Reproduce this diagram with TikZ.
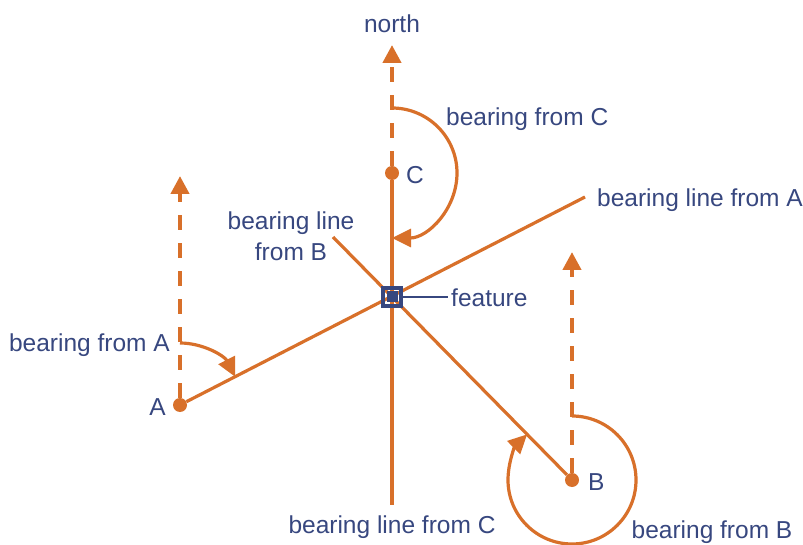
\documentclass[tikz,border=0pt]{standalone}
\usepackage{fontspec}
\setmainfont{Liberation Sans}
\usetikzlibrary{arrows.meta,calc}
\definecolor{BearOrange}{HTML}{D8702A}
\definecolor{BearBlue}{HTML}{37477F}

\begin{document}
\begin{tikzpicture}[x=1pt,y=-1pt,
  font=\fontsize{24.5}{31}\selectfont,
  lbl/.style={text=BearBlue,inner sep=0pt},
  bline/.style={draw=BearOrange,line width=3.2pt},
  northarrow/.style={draw=BearOrange,line width=4.2pt,dash pattern=on 15pt off 13pt,
                     -{Triangle[length=18pt,width=18pt]}},
  turn/.style={draw=BearOrange,line width=3.2pt,-{Triangle[length=19pt,width=18pt]}},
  pt/.style={circle,fill=BearOrange,inner sep=0pt,minimum size=14pt},
]
\useasboundingbox (0,0) rectangle (803,545);

% observer points and feature
\node[pt] (A) at (180,405) {};
\node[pt] (B) at (572,480) {};
\node[pt] (C) at (392,173) {};
\coordinate (feat) at (392,297);

% ends of the north arrows and bearing lines
\coordinate (Anorth) at (180,176);
\coordinate (Bnorth) at (572,252);
\coordinate (Cnorth) at (392,45);
\coordinate (Aend) at (585,197);
\coordinate (Bend) at (333,237);
\coordinate (Cend) at (392,505);

\draw[northarrow] (A) -- (Anorth);
\draw[northarrow] (B) -- (Bnorth);
\draw[northarrow] (C) -- (Cnorth);

\draw[bline] (A) -- (Aend);
\draw[bline] (B) -- (Bend);
\draw[bline] (C) -- (Cend);

% bearing angles, clockwise from north
\draw[turn] ($(A)+(0,-62)$) arc[start angle=-90,end angle=-27,radius=62];
\draw[turn] ($(B)+(0,-64)$) arc[start angle=-90,end angle=225.5,radius=64];
\draw[turn] ($(C)+(0,-65)$) arc[start angle=-90,end angle=90,radius=65];

% feature marker
\node[draw=BearBlue,line width=3.5pt,minimum size=18pt,inner sep=0pt] (box) at (feat) {};
\node[fill=BearBlue,minimum size=11pt,inner sep=0pt] at (feat) {};
\node[lbl,anchor=west] (featlbl) at (451,298) {feature};
\draw[BearBlue,line width=2pt] (box.east) -- ([xshift=-3pt]box.east -| featlbl.west);

% labels
\node[lbl] at (392,24) {north};
\node[lbl,anchor=west] at (406,175) {C};
\node[lbl,anchor=east] at (166,407) {A};
\node[lbl,anchor=west] at (588,482) {B};
\node[lbl,anchor=west] at (446,119) {bearing from C};
\node[lbl,anchor=east] at (170,345) {bearing from A};
\node[lbl] at (712,532) {bearing from B};
\node[lbl,align=center] at (291,236) {bearing line\\from B};
\node[lbl,anchor=west] at (597,200) {bearing line from A};
\node[lbl] at (392,527) {bearing line from C};
\end{tikzpicture}
\end{document}
